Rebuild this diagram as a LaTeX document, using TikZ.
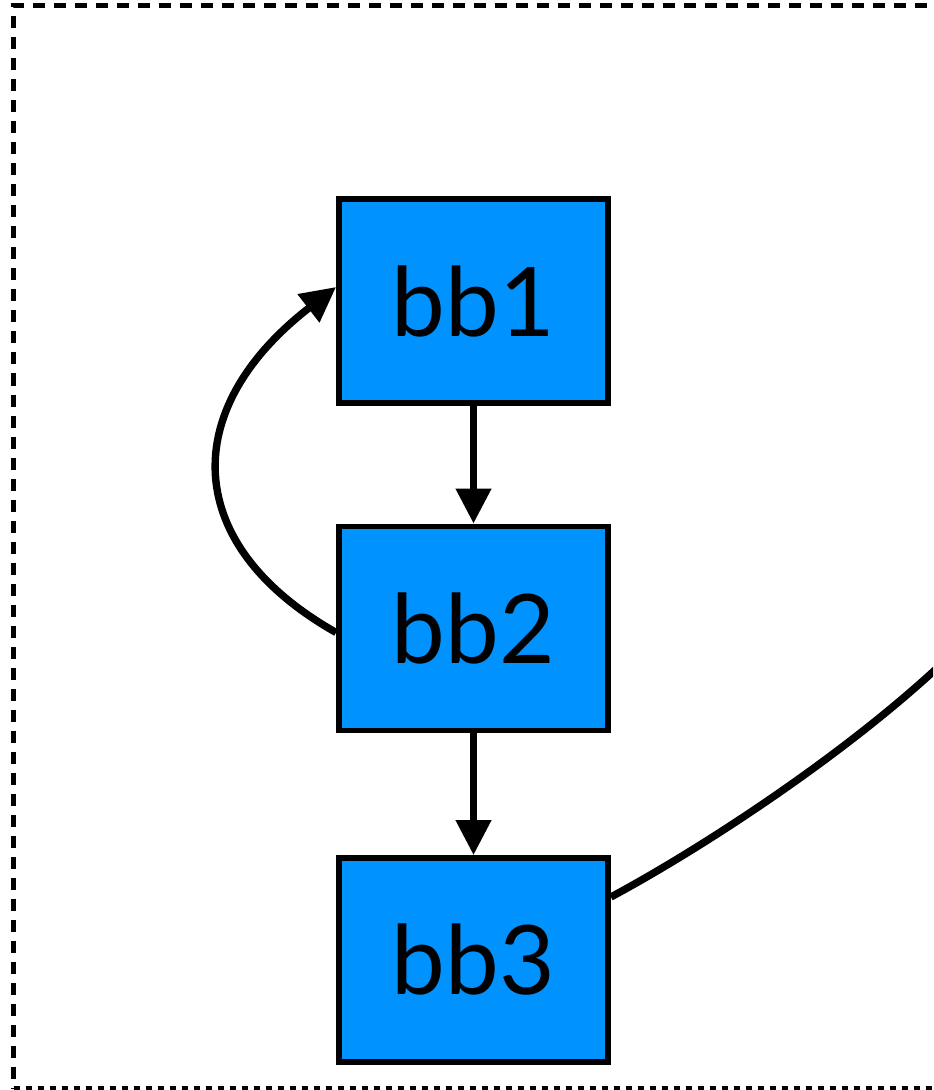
\documentclass[tikz,border=0pt]{standalone}
\usepackage{fontspec}
\setmainfont{Lato}
\usetikzlibrary{arrows.meta}
\definecolor{blockblue}{RGB}{0,146,255}
\tikzset{
  block/.style={draw=black, line width=2.9pt, fill=blockblue,
    minimum width=134.5pt, minimum height=102pt, inner sep=0pt,
    font=\fontsize{48}{48}\selectfont},
  flow/.style={line width=3.7pt, -{Triangle[length=17.5pt,width=17pt]}},
  plain/.style={line width=3.7pt},
  frame/.style={line width=2.5pt}
}
\begin{document}
\begin{tikzpicture}[x=0.5pt, y=-0.5pt]
  \useasboundingbox (0,0) rectangle (933,1090);
  \clip (0,0) rectangle (933,1090);

  % dashed region frame (continues past the right edge)
  \draw[frame, dash pattern=on 6pt off 4.5pt] (1200,6) -- (13.5,6) -- (13.5,1088);
  \draw[frame, dash pattern=on 3pt off 3pt] (13.5,1088) -- (1200,1088);

  % basic blocks
  \node[block] (bb1) at (473.5,301)   {bb1};
  \node[block] (bb2) at (473.5,628.5) {bb2};
  \node[block] (bb3) at (473.5,960)   {bb3};
  \coordinate (exit) at (985,620);

  % control flow edges
  \draw[flow] (bb1) -- (bb2);
  \draw[flow] (bb2) -- (bb3);
  \draw[flow] ([yshift=-2pt]bb2.west) .. controls +(-154,-87) and +(-159,123) .. ([yshift=7pt]bb1.west);
  \draw[plain] ([yshift=31.5pt]bb3.east) .. controls +(106,-57) and +(-95,105) .. (exit);
\end{tikzpicture}
\end{document}
